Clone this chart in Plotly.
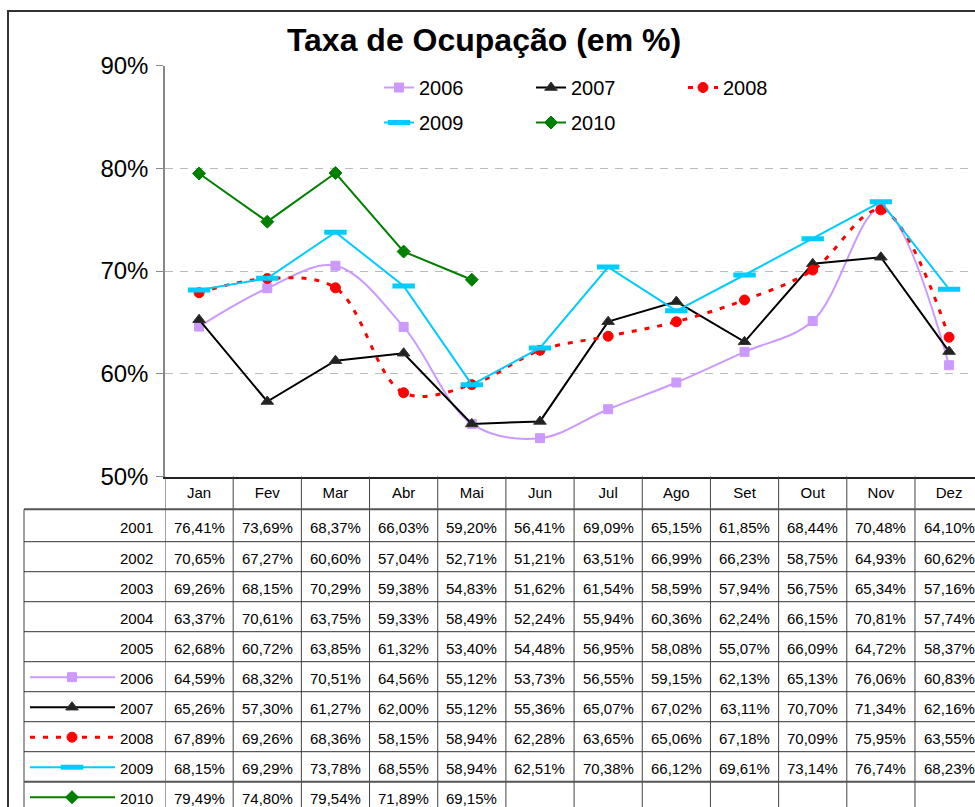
import plotly.graph_objects as go

# ---------------- data ----------------
months = ["Jan", "Fev", "Mar", "Abr", "Mai", "Jun", "Jul", "Ago", "Set", "Out", "Nov", "Dez"]
years = ["2001", "2002", "2003", "2004", "2005", "2006", "2007", "2008", "2009", "2010"]

v2001 = [76.41, 73.69, 68.37, 66.03, 59.20, 56.41, 69.09, 65.15, 61.85, 68.44, 70.48, 64.10]
v2002 = [70.65, 67.27, 60.60, 57.04, 52.71, 51.21, 63.51, 66.99, 66.23, 58.75, 64.93, 60.62]
v2003 = [69.26, 68.15, 70.29, 59.38, 54.83, 51.62, 61.54, 58.59, 57.94, 56.75, 65.34, 57.16]
v2004 = [63.37, 70.61, 63.75, 59.33, 58.49, 52.24, 55.94, 60.36, 62.24, 66.15, 70.81, 57.74]
v2005 = [62.68, 60.72, 63.85, 61.32, 53.40, 54.48, 56.95, 58.08, 55.07, 66.09, 64.72, 58.37]
v2006 = [64.59, 68.32, 70.51, 64.56, 55.12, 53.73, 56.55, 59.15, 62.13, 65.13, 76.06, 60.83]
v2007 = [65.26, 57.30, 61.27, 62.00, 55.12, 55.36, 65.07, 67.02, 63.11, 70.70, 71.34, 62.16]
v2008 = [67.89, 69.26, 68.36, 58.15, 58.94, 62.28, 63.65, 65.06, 67.18, 70.09, 75.95, 63.55]
v2009 = [68.15, 69.29, 73.78, 68.55, 58.94, 62.51, 70.38, 66.12, 69.61, 73.14, 76.74, 68.23]
v2010 = [79.49, 74.80, 79.54, 71.89, 69.15]

table_values = [v2001, v2002, v2003, v2004, v2005, v2006, v2007, v2008, v2009, v2010]
y_ticks = [50, 60, 70, 80, 90]
y_ticktext = ["50%", "60%", "70%", "80%", "90%"]

# ---------------- styles ----------------
FONT = "Liberation Sans, Arial, sans-serif"
W, H = 975, 807
PL, PT, PB = 165, 65.5, 476.5         # plot-area pixel edges
COLW = 68.18                          # pixel width of one month column
TABLE_LEFT = 24


def row_top(k):
    # first body row is a little taller than the others
    return 509.3 if k == 0 else 541.7 + 30.0 * (k - 1)


def row_text(i):
    return (row_top(i) + row_top(i + 1)) / 2 + 1.5


charted = [
    dict(name="2006", y=v2006, color="#CC99FF", symbol="square", size=9, dash="solid", shape="spline", legend="legend"),
    dict(name="2007", y=v2007, color="#000000", symbol="triangle-up", size=11, dash="solid", shape="linear", legend="legend"),
    dict(name="2008", y=v2008, color="#FF0000", symbol="circle", size=10, dash="5px,8px", shape="spline", legend="legend"),
    dict(name="2009", y=v2009, color="#00CCFF", symbol="line-ew", size=16, dash="solid", shape="linear", legend="legend2"),
    dict(name="2010", y=v2010, color="#008000", symbol="diamond", size=10, dash="solid", shape="linear", legend="legend2"),
]


def marker_style(s):
    mk = dict(symbol=s["symbol"], size=s["size"], color=s["color"],
              line=dict(color=s["color"], width=5 if s["symbol"] == "line-ew" else 1))
    if s["name"] == "2007":
        mk["color"] = "#222222"
        mk["line"] = dict(color="#333333", width=1)
    return mk


fig = go.Figure()

for s in charted:
    lw = 3 if s["name"] == "2008" else 2
    fig.add_trace(go.Scatter(
        x=months[:len(s["y"])], y=s["y"], name=s["name"], mode="lines+markers",
        line=dict(color=s["color"], width=lw, dash=s["dash"], shape=s["shape"], smoothing=1),
        marker=marker_style(s), legend=s["legend"], xaxis="x", yaxis="y",
    ))

# legend keys inside the data table
for s in charted:
    yc = row_text(years.index(s["name"])) - 1
    lw = 3 if s["name"] == "2008" else 2
    fig.add_trace(go.Scatter(
        x=[30, 115], y=[yc, yc], mode="lines", xaxis="x2", yaxis="y2",
        line=dict(color=s["color"], width=lw, dash=s["dash"]), showlegend=False, hoverinfo="skip",
    ))
    fig.add_trace(go.Scatter(
        x=[72], y=[yc], mode="markers", xaxis="x2", yaxis="y2",
        marker=marker_style(s), showlegend=False, hoverinfo="skip",
    ))

shapes = []
# chart-area border
shapes.append(dict(type="rect", xref="x2", yref="y2", x0=8, y0=11, x1=1000, y1=830,
                   line=dict(color="#333333", width=2), layer="above"))
# column boundaries of the data table
for k in range(len(months) + 1):
    shapes.append(dict(type="line", xref="x", yref="y2", x0=k - 0.5, x1=k - 0.5,
                       y0=PB, y1=H + 5, line=dict(color="#444444", width=1)))
shapes.append(dict(type="line", xref="x2", yref="y2", x0=TABLE_LEFT, x1=TABLE_LEFT,
                   y0=row_top(0), y1=H + 5, line=dict(color="#444444", width=1)))
for k in range(len(years) + 1):
    yk = row_top(k)
    heavy = k in (0, 9)
    shapes.append(dict(type="line", xref="x2", yref="y2", x0=TABLE_LEFT, x1=W + 5,
                       y0=yk, y1=yk, line=dict(color="#555555" if heavy else "#333333",
                                               width=2 if heavy else 1)))

annotations = []
for i, (yr, vals) in enumerate(zip(years, table_values)):
    yc = row_text(i)
    annotations.append(dict(text=yr, xref="x2", yref="y2", x=155, y=yc, xanchor="right",
                            yanchor="middle", showarrow=False, font=dict(family=FONT, size=15, color="black")))
    for m, v in zip(months, vals):
        annotations.append(dict(text=f"{v:.2f}%".replace(".", ","), xref="x", yref="y2", x=m, y=yc,
                                xanchor="center", yanchor="middle", showarrow=False,
                                font=dict(family=FONT, size=15, color="black")))

fig.update_layout(
    template="none",
    width=W, height=H, autosize=False,
    margin=dict(l=0, r=0, t=0, b=0, pad=0, autoexpand=False),
    paper_bgcolor="white", plot_bgcolor="rgba(0,0,0,0)",
    font=dict(family=FONT, color="black"),
    title=dict(text="<b>Taxa de Ocupação (em %)</b>", x=484 / W, y=1 - 40 / H, xref="paper", yref="paper",
               xanchor="center", yanchor="middle", font=dict(family=FONT, size=32, color="black")),
    xaxis=dict(domain=[PL / W, 1], range=[-0.5, -0.5 + (W - PL) / COLW], type="category",
               showgrid=False, showline=True, linecolor="#222222", linewidth=1.5,
               ticks="", tickfont=dict(family=FONT, size=15, color="black"), ticklabelstandoff=2,
               zeroline=False, fixedrange=True, anchor="y", automargin=False),
    yaxis=dict(domain=[(H - PB) / H, (H - PT) / H], range=[50, 90], tickmode="array",
               tickvals=y_ticks, ticktext=y_ticktext, showgrid=True, gridcolor="#BBBBBB",
               griddash="8px,7px", gridwidth=1,
               showline=True, linecolor="#888888", linewidth=1.5, ticks="outside", ticklen=7,
               tickcolor="#888888", tickfont=dict(family=FONT, size=24, color="black"),
               ticklabelstandoff=3, zeroline=False, fixedrange=True, anchor="x", automargin=False),
    xaxis2=dict(domain=[0, 1], range=[0, W], visible=False, anchor="y2", fixedrange=True, automargin=False),
    yaxis2=dict(domain=[0, 1], range=[H, 0], visible=False, anchor="x2", fixedrange=True, automargin=False),
    legend=dict(orientation="h", x=(419 - 40) / W, y=1 - 68 / H, xanchor="left", yanchor="top",
                entrywidth=107, entrywidthmode="pixels", font=dict(family=FONT, size=20, color="black"),
                bgcolor="rgba(0,0,0,0)", traceorder="normal", borderwidth=0),
    legend2=dict(orientation="h", x=(419 - 40) / W, y=1 - 103 / H, xanchor="left", yanchor="top",
                 entrywidth=107, entrywidthmode="pixels", font=dict(family=FONT, size=20, color="black"),
                 bgcolor="rgba(0,0,0,0)", traceorder="normal", borderwidth=0),
    shapes=shapes, annotations=annotations,
    hovermode=False, showlegend=True,
)

page_js = "document.body.style.margin = '0'; document.body.style.overflow = 'hidden';"

fig.write_html("out.html", config={"displayModeBar": False}, post_script=page_js)
